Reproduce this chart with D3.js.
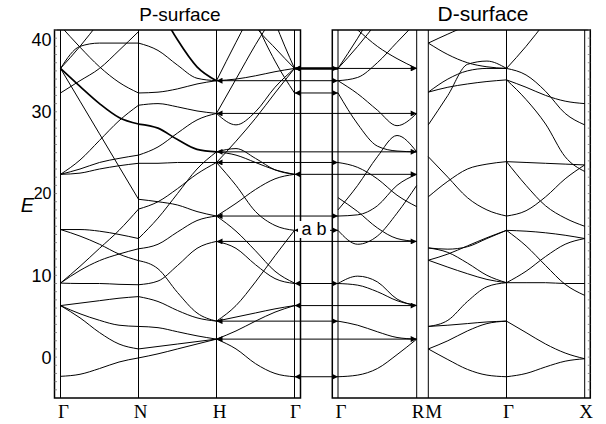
<!DOCTYPE html>
<html>
<head>
<meta charset="utf-8">
<script src="https://cdnjs.cloudflare.com/ajax/libs/d3/7.8.5/d3.min.js"></script>
<style>
  body { margin: 0; background: #fff; }
  svg { display: block; }
</style>
</head>
<body>
<div id="chart"></div>
<script>
// ---- data (energies E) ----
const yTicks = [0, 10, 20, 30, 40];
const pLabels = ["Γ", "N", "H", "Γ"];
const dLabels1 = ["Γ", "R"];
const dLabels2 = ["M", "Γ", "X"];
// every band is sampled at these fractions of its segment
const tSamples = [0, 0.25, 0.5, 0.75, 1];

// P-surface, Γ -> N
const pGN = [
  [-2.35, -2.1, -1.4, -0.6, -0.1],
  [6.3, 4.8, 3.0, 1.6, 1.0],
  [6.3, 5.3, 4.5, 3.9, 3.75],
  [6.3, 6.6, 6.9, 7.2, 7.4],
  [9.05, 9.0, 9.0, 8.9, 8.85],
  [9.05, 10.6, 11.8, 12.6, 13.25],
  [9.05, 11.1, 13.3, 15.5, 18.1],
  [15.6, 15.6, 15.4, 15.0, 14.5],
  [15.6, 14.8, 13.8, 12.6, 11.8],
  [22.35, 22.5, 23.0, 23.4, 23.7],
  [22.35, 23.0, 23.8, 24.3, 24.7],
  [22.35, 24.1, 26.5, 28.9, 30.8],
  [35.3, 31.3, 27.3, 23.3, 19.3],
  [35.3, 38.0, 38.4, 38.4, 38.4],
  [35.3, 38.0, 41.0, 44.0, 47.0],
  [32.3, 33.8, 35.3, 37.5, 39.8],
  [40.5, 37.9, 35.5, 33.6, 32.3]
];
const pGNDouble = [[35.3, 33.1, 31.0, 29.3, 28.5]];

// P-surface, N -> H
const pNH = [
  [-0.1, 0.4, 1.0, 1.6, 2.2],
  [1.0, 1.3, 1.6, 1.9, 2.2],
  [3.75, 3.6, 3.1, 2.6, 2.2],
  [7.4, 6.8, 5.7, 4.8, 4.4],
  [8.85, 9.3, 11.2, 13.3, 14.15],
  [11.8, 10.8, 7.9, 5.4, 4.4],
  [13.25, 13.8, 15.3, 16.7, 17.25],
  [14.5, 17.0, 20.0, 23.0, 25.1],
  [19.3, 19.0, 18.6, 17.8, 17.25],
  [18.1, 19.0, 20.6, 22.4, 23.8],
  [23.7, 23.7, 23.8, 23.8, 23.8],
  [24.7, 25.7, 27.4, 29.0, 29.8],
  [30.8, 31.0, 30.6, 30.1, 29.8],
  [32.3, 32.4, 32.8, 33.4, 33.8],
  [38.4, 37.5, 35.7, 34.1, 33.8]
];
const pNHDouble = [
  [28.5, 28.0, 26.6, 25.4, 25.1],
  [48.0, 43.0, 38.8, 35.5, 33.8]
];

// P-surface, H -> Γ
const pHG = [
  [2.2, 1.0, -0.8, -2.0, -2.4],
  [2.2, 3.2, 4.4, 5.5, 6.3],
  [4.4, 4.9, 5.4, 5.9, 6.3],
  [4.4, 6.3, 9.2, 12.4, 15.5],
  [14.15, 13.3, 11.3, 9.6, 9.0],
  [17.25, 15.4, 13.0, 10.5, 9.05],
  [17.25, 18.8, 20.5, 21.8, 22.35],
  [23.8, 21.0, 17.8, 16.1, 15.5],
  [23.8, 26.4, 29.2, 32.3, 35.3],
  [25.1, 25.5, 24.3, 22.9, 22.35],
  [25.1, 24.7, 23.8, 22.9, 22.35],
  [29.8, 28.4, 30.0, 33.0, 35.3],
  [29.8, 34.0, 38.2, 42.0, 46.0],
  [33.8, 34.0, 34.4, 34.9, 35.3],
  [33.8, 38.5, 43.0, 47.0, 51.0],
  [50.0, 45.0, 40.5, 37.8, 35.3],
  [55.0, 48.0, 41.2, 36.2, 32.3],
  [60.0, 55.0, 48.0, 41.0, 35.3]
];

// D-surface, Γ -> R
const dGR = [
  [-2.4, -2.2, -1.4, 0.3, 2.2],
  [4.4, 3.9, 3.1, 2.4, 2.2],
  [9.0, 9.9, 9.2, 7.1, 6.3],
  [9.0, 8.8, 8.0, 6.9, 6.3],
  [15.5, 13.8, 14.8, 17.6, 21.0],
  [19.5, 17.8, 15.8, 14.5, 14.15],
  [17.25, 17.4, 18.5, 21.0, 22.35],
  [23.8, 23.2, 21.8, 19.8, 18.4],
  [18.0, 21.0, 24.5, 27.1, 25.1],
  [32.3, 28.5, 25.8, 25.2, 25.1],
  [33.8, 32.2, 30.2, 28.3, 29.8],
  [33.8, 34.2, 36.0, 38.5, 41.0],
  [35.3, 38.0, 41.0, 44.0, 47.0],
  [42.0, 40.0, 38.0, 36.5, 35.3],
  [35.3, 39.0, 43.0, 47.0, 51.0]
];

// D-surface, M -> Γ
const dMG = [
  [1.0, -0.3, -1.5, -2.2, -2.4],
  [1.0, 2.0, 3.2, 4.1, 4.4],
  [3.75, 3.9, 4.1, 4.3, 4.4],
  [3.75, 4.5, 6.8, 8.6, 9.1],
  [11.85, 11.0, 10.2, 9.5, 9.1],
  [13.35, 12.8, 11.5, 10.0, 9.1],
  [11.85, 12.6, 13.6, 14.6, 15.5],
  [13.35, 13.2, 13.5, 14.5, 15.5],
  [19.6, 21.5, 23.0, 23.6, 23.9],
  [24.5, 22.0, 19.5, 18.0, 17.25],
  [28.4, 32.0, 35.8, 36.2, 35.3],
  [32.4, 33.0, 33.4, 33.7, 33.9],
  [32.4, 34.0, 35.0, 35.3, 35.3],
  [38.4, 37.0, 36.0, 35.5, 35.3],
  [38.4, 39.5, 40.5, 41.0, 42.0]
];

// D-surface, Γ -> X
const dGX = [
  [-2.4, -2.0, -1.2, -0.5, -0.2],
  [4.4, 3.0, 1.6, 0.5, -0.2],
  [9.1, 9.1, 9.1, 9.0, 9.0],
  [9.1, 10.5, 12.3, 13.8, 14.5],
  [15.5, 15.4, 15.2, 14.9, 14.5],
  [15.5, 13.6, 11.2, 8.9, 7.55],
  [17.25, 17.9, 19.6, 21.8, 23.5],
  [23.9, 23.8, 23.7, 23.6, 23.5],
  [23.9, 21.0, 18.5, 17.0, 16.0],
  [33.9, 31.5, 28.5, 24.5, 22.7],
  [35.3, 34.5, 32.5, 29.8, 28.4],
  [33.9, 33.0, 32.0, 31.3, 31.0],
  [35.3, 38.0, 41.0, 44.0, 47.0]
];

// transitions between the two surfaces (energy, start point, end point)
const arrowE    = [35.3, 33.8, 32.3, 29.8, 25.1, 23.8, 22.35, 17.25, 15.5, 14.15, 9.0, 6.3, 4.4, 2.2, -2.4];
const arrowFrom = ["G", "H", "G", "H", "H", "H", "G", "H", "G", "H", "G", "G", "H", "H", "G"];
const arrowTo   = ["R", "Gd", "Gd", "R", "R", "Gd", "R", "Gd", "Gd", "R", "Gd", "R", "Gd", "R", "Gd"];

// ---- layout ----
const W = 606, H = 424;
const plotTop = 30, plotBottom = 398;
const pBox = [54.5, 300.5];
const dBox = [332.3, 590.3];

const svg = d3.select("#chart").append("svg")
  .attr("width", W).attr("height", H);

const y = d3.scaleLinear().domain([-5, 40]).range([plotBottom, plotTop]);
const xP = d3.scaleLinear().domain([0, 3]).range([60.5, 294.5]);
const xD1 = d3.scaleLinear().domain([0, 1]).range([338, 416.7]);
const xD2 = d3.scaleLinear().domain([0, 2]).range([428.3, 584.7]);

const defs = svg.append("defs");
[["clipP", pBox], ["clipD", dBox]].forEach(([id, b]) => {
  defs.append("clipPath").attr("id", id).append("rect")
    .attr("x", b[0]).attr("y", plotTop).attr("width", b[1] - b[0]).attr("height", plotBottom - plotTop);
});
defs.append("marker")
  .attr("id", "head")
  .attr("viewBox", "0 0 10 10")
  .attr("refX", 10).attr("refY", 5)
  .attr("markerUnits", "userSpaceOnUse")
  .attr("markerWidth", 8).attr("markerHeight", 6)
  .attr("orient", "auto-start-reverse")
  .append("path").attr("d", "M0,0L10,5L0,10z").attr("fill", "#000");

function drawBands(g, bands, xs, k0, width) {
  const line = d3.line()
    .x(d => xs(d[0])).y(d => y(d[1]))
    .curve(d3.curveMonotoneX);
  g.selectAll(null)
    .data(bands)
    .enter().append("path")
    .attr("d", b => line(b.map((e, i) => [k0 + tSamples[i], e])))
    .attr("fill", "none")
    .attr("stroke", "#000")
    .attr("stroke-width", width);
}

// panels
const gP = svg.append("g").attr("clip-path", "url(#clipP)");
drawBands(gP, pGN, xP, 0, 1);
drawBands(gP, pGNDouble, xP, 0, 1.7);
drawBands(gP, pNH, xP, 1, 1);
drawBands(gP, pNHDouble, xP, 1, 1.7);
drawBands(gP, pHG, xP, 2, 1);

const gD = svg.append("g").attr("clip-path", "url(#clipD)");
drawBands(gD, dGR, xD1, 0, 1);
drawBands(gD, dMG, xD2, 0, 1);
drawBands(gD, dGX, xD2, 1, 1);

// frames and symmetry lines
const frame = svg.append("g").attr("fill", "none").attr("stroke", "#000");
[pBox, dBox].forEach(b => {
  frame.append("rect")
    .attr("x", b[0]).attr("y", plotTop)
    .attr("width", b[1] - b[0]).attr("height", plotBottom - plotTop)
    .attr("stroke-width", 1.5);
});
const vLines = [xP(0), xP(1), xP(2), xP(3), xD1(0), xD1(1), xD2(0), xD2(1), xD2(2)];
frame.selectAll(null).data(vLines).enter().append("line")
  .attr("x1", d => d).attr("x2", d => d)
  .attr("y1", plotTop).attr("y2", plotBottom)
  .attr("stroke-width", 1);

// minor ticks, one per unit
const minor = d3.range(-4, 41);
frame.selectAll(null).data(minor).enter().append("line")
  .attr("x1", pBox[0]).attr("x2", pBox[0] + 2.5)
  .attr("y1", d => y(d)).attr("y2", d => y(d))
  .attr("stroke", "#777").attr("stroke-width", 0.8);
frame.selectAll(null).data(minor).enter().append("line")
  .attr("x1", dBox[1]).attr("x2", dBox[1] - 2.5)
  .attr("y1", d => y(d)).attr("y2", d => y(d))
  .attr("stroke", "#777").attr("stroke-width", 0.8);

// arrows
const xKey = { G: xP(3), H: xP(2), Gd: xD1(0), R: xD1(1) };
svg.append("g").selectAll(null)
  .data(arrowE.map((e, i) => ({ e, a: arrowFrom[i], b: arrowTo[i] })))
  .enter().append("line")
  .attr("x1", d => xKey[d.a]).attr("x2", d => xKey[d.b])
  .attr("y1", d => y(d.e)).attr("y2", d => y(d.e))
  .attr("stroke", "#000").attr("stroke-width", 1)
  .attr("marker-start", "url(#head)")
  .attr("marker-end", "url(#head)");
// the bold Γ-Γ transition at the top
svg.append("line")
  .attr("x1", xKey.G).attr("x2", xKey.Gd)
  .attr("y1", y(arrowE[0])).attr("y2", y(arrowE[0]))
  .attr("stroke", "#000").attr("stroke-width", 2.4)
  .attr("marker-start", "url(#head)")
  .attr("marker-end", "url(#head)");

// "a b" label
const ab = svg.append("g");
ab.append("rect").attr("x", 298).attr("y", 221).attr("width", 32).attr("height", 17).attr("fill", "#fff");
ab.append("text").attr("x", 314).attr("y", 235)
  .attr("text-anchor", "middle")
  .style("font-family", "'Liberation Sans', Arial, sans-serif")
  .style("font-size", "18px")
  .text("a b");

// y axis labels
const yl = svg.append("g")
  .style("font-family", "'Liberation Sans', Arial, sans-serif")
  .style("font-size", "18px");
yl.selectAll(null).data(yTicks).enter().append("text")
  .attr("x", 51.5).attr("y", d => y(d) + (d === 40 ? 16 : 6.5))
  .attr("text-anchor", "end")
  .style("font-size", d => d === 20 ? "16px" : null)
  .attr("dy", d => d === 20 ? -1.5 : 0)
  .text(d => d);
yl.append("text").attr("x", 34).attr("y", 212)
  .attr("text-anchor", "end")
  .style("font-style", "italic").style("font-size", "20px")
  .text("E");

// titles
const tt = svg.append("g")
  .style("font-family", "'Liberation Sans', Arial, sans-serif")
  .attr("text-anchor", "middle");
tt.append("text").attr("x", 180).attr("y", 21).style("font-size", "19px").text("P-surface");
tt.append("text").attr("x", 483).attr("y", 21).style("font-size", "21px").text("D-surface");

// symmetry point labels
const xl = svg.append("g")
  .style("font-family", "'Liberation Serif', 'Times New Roman', serif")
  .style("font-size", "19px")
  .attr("text-anchor", "middle");
const labelShift = [3, 2, 3, 1, 3, 1.5, 5.5, 2, 1.5];
const labelPos = pLabels.map((s, i) => [s, xP(i)])
  .concat(dLabels1.map((s, i) => [s, xD1(i)]))
  .concat(dLabels2.map((s, i) => [s, xD2(i)]));
xl.selectAll(null).data(labelPos).enter().append("text")
  .attr("x", (d, i) => d[1] + labelShift[i])
  .attr("y", 418)
  .text(d => d[0]);
</script>
</body>
</html>
